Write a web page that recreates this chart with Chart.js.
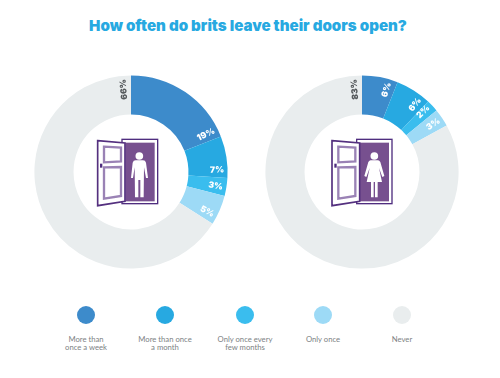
<!DOCTYPE html>
<html><head><meta charset="utf-8">
<script src="https://cdn.jsdelivr.net/npm/chart.js@4"></script>
<style>
html,body{margin:0;padding:0;background:#fff;width:500px;height:378px;overflow:hidden}
body{position:relative;font-family:"Inter","Lato",sans-serif}
#title{position:absolute;left:0;width:496px;top:15px;text-align:center;color:#27A9E1;font:900 15.1px/22px Inter,sans-serif;white-space:nowrap}
.box{position:absolute;width:200px;height:200px}
.ico{position:absolute;width:230px;height:220px;top:60px}
.dot{position:absolute;width:18px;height:18px;border-radius:50%;top:306px}
.lab{position:absolute;top:335px;width:90px;text-align:center;color:#7d8284;font:400 7.7px/8.4px Lato,sans-serif}
</style></head><body>
<div id="title"></div>
<div class="box" style="left:30.7px;top:71.5px"><canvas id="menC" width="200" height="200"></canvas></div>
<div class="box" style="left:262.3px;top:72px"><canvas id="womenC" width="200" height="200"></canvas></div>
<svg class="ico" style="left:20px" viewBox="0 0 690 660">
 <rect x="306" y="238" width="107" height="193" fill="#fff" stroke="#4f2d7f" stroke-width="4"/>
 <rect x="316" y="248" width="88" height="176" fill="#77508f"/>
 <path d="M233 242L315 249V424L233 437Z" fill="#fff" stroke="#54307f" stroke-width="5"/>
 <path d="M252 260L303 263V304L252 307Z M252 322L303 321V408L252 416Z" fill="#fff" stroke="#9a82b5" stroke-width="7"/>
 <rect x="240" y="311" width="7" height="12" fill="#4f2d7f"/>
 <circle cx="358" cy="288" r="11.5" fill="#fff"/>
 <path d="M347 301H369Q376 301 378 308L384 354H378L372 322L371 412H361V360H355V412H345L344 322L339 354H333L338 308Q340 301 347 301Z" fill="#fff"/>
</svg>
<svg class="ico" style="left:250px" viewBox="0 0 690 660">
 <rect x="320" y="238" width="106" height="193" fill="#fff" stroke="#4f2d7f" stroke-width="4"/>
 <rect x="330" y="248" width="87" height="176" fill="#77508f"/>
 <path d="M246 242L329 249V424L246 437Z" fill="#fff" stroke="#54307f" stroke-width="5"/>
 <path d="M265 260L316 263V304L265 307Z M265 322L316 321V408L265 416Z" fill="#fff" stroke="#9a82b5" stroke-width="7"/>
 <rect x="253" y="311" width="7" height="12" fill="#4f2d7f"/>
 <circle cx="373" cy="288" r="11.5" fill="#fff"/>
 <path d="M362 301H384Q388 301 391 306L403 348L397 351L387 324L396 366H383V412H375V366H371V412H363V366H350L359 324L349 351L343 348L355 306Q358 301 362 301Z" fill="#fff"/>
</svg>
<script>
const titleText = "How often do brits leave their doors open?";
const categories = [["More than","once a week"],["More than once","a month"],["Only once every","few months"],["Only once"],["Never"]];
const menValues = [19,7,3,5,66];
const womenValues = [6,6,2,3,83];
const colors = ["#3D8BCB","#27A9E1","#3ABDEE","#9DDAF6","#E9EDEE"];
const labelColors = ["#fff","#fff","#fff","#fff","#55595c"];
const legendCentres = [86,165,245,323,402];

document.getElementById('title').textContent = titleText;
categories.forEach((c,i)=>{
  const d=document.createElement('div');d.className='dot';d.style.left=(legendCentres[i]-9)+'px';d.style.background=colors[i];document.body.appendChild(d);
  const l=document.createElement('div');l.className='lab';l.style.left=(legendCentres[i]-45)+'px';l.innerHTML=c.join('<br>');document.body.appendChild(l);
});

const radialLabels = {
  id:'radialLabels',
  afterDatasetsDraw(chart){
    const {ctx}=chart; const meta=chart.getDatasetMeta(0);
    meta.data.forEach((arc,i)=>{
      const a=arc.endAngle-5*Math.PI/180;
      const r=arc.outerRadius-3.5;
      ctx.save();
      ctx.translate(arc.x+Math.cos(a)*r,arc.y+Math.sin(a)*r);
      ctx.rotate(a);
      ctx.textAlign='right';ctx.textBaseline='middle';
      ctx.fillStyle=labelColors[i];
      ctx.font='900 8.6px Inter, sans-serif';
      ctx.fillText(chart.data.datasets[0].data[i]+'%',0,0);
      ctx.restore();
    });
  }
};
function donut(id,values){
  new Chart(document.getElementById(id),{
    type:'doughnut',
    data:{labels:categories.map(c=>c.join(' ')),datasets:[{data:values,backgroundColor:colors,borderWidth:0}]},
    options:{responsive:false,animation:false,cutout:'59.5%',radius:96.6,
      layout:{padding:0},
      plugins:{legend:{display:false},tooltip:{enabled:false}}},
    plugins:[radialLabels]
  });
}
donut('menC',menValues);
donut('womenC',womenValues);
</script>
</body></html>
